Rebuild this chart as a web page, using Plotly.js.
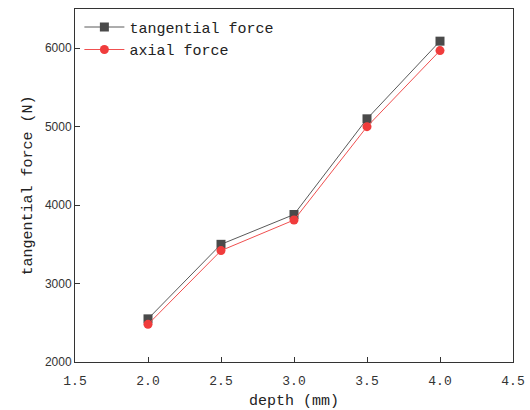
<!DOCTYPE html>
<html><head><meta charset="utf-8">
<script src="https://cdn.plot.ly/plotly-3.0.1.min.js"></script>
<style>html,body{margin:0;padding:0;background:#fff}</style>
</head><body>
<div id="chart" style="width:530px;height:410px"></div>
<script>
const depth = [2.0, 2.5, 3.0, 3.5, 4.0];
const tangentialForce = [2550, 3500, 3880, 5100, 6090];
const axialForce = [2480, 3420, 3810, 5000, 5970];
const xTickVals = [1.5, 2.0, 2.5, 3.0, 3.5, 4.0, 4.5];
const xTickText = ['1.5', '2.0', '2.5', '3.0', '3.5', '4.0', '4.5'];
const yTickVals = [2000, 3000, 4000, 5000, 6000];

const mono = '"Liberation Mono", "DejaVu Sans Mono", monospace';
const traces = [
  {x: depth, y: tangentialForce, name: 'tangential force', mode: 'lines+markers',
   line: {color: '#5a5a5a', width: 1}, marker: {symbol: 'square', size: 9, color: '#4a4a4a'}},
  {x: depth, y: axialForce, name: 'axial force', mode: 'lines+markers',
   line: {color: '#f05050', width: 1}, marker: {symbol: 'circle', size: 9, color: '#f03c3c'}}
];
const layout = {
  width: 530, height: 410,
  margin: {l: 75, r: 17, t: 9, b: 48},
  paper_bgcolor: '#fff', plot_bgcolor: '#fff',
  showlegend: true,
  legend: {x: 0.01, y: 0.995, xanchor: 'left', yanchor: 'top', bgcolor: 'rgba(0,0,0,0)',
    font: {family: mono, size: 15, color: '#222'},
    tracegroupgap: 0, itemwidth: 40},
  xaxis: {range: [1.5, 4.5], tickvals: xTickVals, ticktext: xTickText,
    ticks: 'inside', ticklen: 5, tickcolor: '#333', showline: true, linecolor: '#333', linewidth: 1,
    mirror: true, showgrid: false, zeroline: false, ticklabelstandoff: 6,
    tickfont: {family: mono, size: 13, color: '#333'},
    title: {text: 'depth (mm)', font: {family: mono, size: 15, color: '#222'}, standoff: 6}},
  yaxis: {range: [2000, 6500], tickvals: yTickVals,
    ticks: 'inside', ticklen: 5, tickcolor: '#333', showline: true, linecolor: '#333', linewidth: 1,
    mirror: true, showgrid: false, zeroline: false,
    tickfont: {family: '"Liberation Sans", Arial, sans-serif', size: 12, color: '#333'},
    title: {text: 'tangential force (N)', font: {family: mono, size: 15, color: '#222'}, standoff: 8}}
};
Plotly.newPlot('chart', traces, layout, {displayModeBar: false, staticPlot: true});
</script>
</body></html>
